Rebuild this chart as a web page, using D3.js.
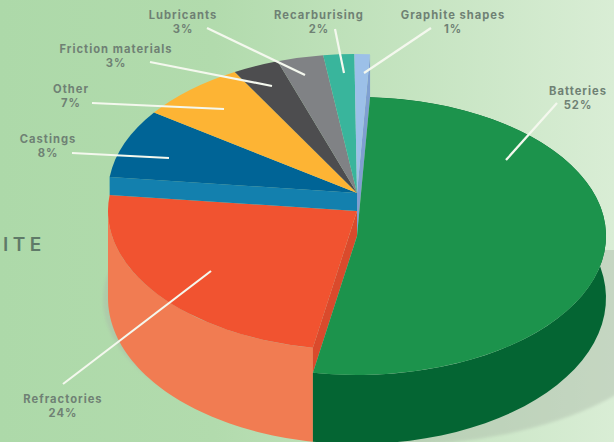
<!DOCTYPE html>
<html>
<head>
<meta charset="utf-8">
<script src="https://cdnjs.cloudflare.com/ajax/libs/d3/7.8.5/d3.min.js"></script>
<style>
html, body { margin: 0; padding: 0; overflow: hidden; background: #c0e1bb; }
text { font-family: Inter, "Open Sans", sans-serif; font-weight: 700; fill: #6f8174; }
</style>
</head>
<body>
<div id="visualization"></div>
<script>
const categories = ["Batteries", "Refractories", "Castings", "Other", "Friction materials", "Lubricants", "Recarburising", "Graphite shapes"];
const shares = [52, 24, 8, 7, 3, 3, 2, 1];

const topColors = ["#1c934c", "#f15330", "#006496", "#fdb434", "#4d4d4f", "#808285", "#39b59c", "#9cc0e8"];

// label centre + leader ends, same order as categories
const labelX = [578, 63, 48, 71, 116, 183, 319, 453];
const labelY = [95, 403, 143, 93, 53, 19, 19, 19];
const leaderFrom = [[557, 103], [63, 384], [72, 153], [92, 103], [150, 62], [207, 28], [335, 29], [431, 28]];
const leaderTo = [[506, 160], [211, 271], [169, 158], [224, 109], [272, 86], [305, 75], [344, 73], [364, 73]];

const width = 614;
const height = 442;
const rx = 249;
const ry = 139;
const cx = 357;
const batteriesY = 236;
const refractoriesY = 211;
const upperY = 193;
const bottomY = 298;
const bottomRy = 146;
const rad = Math.PI / 180;

const svg = d3.select("#visualization")
    .append("svg")
    .attr("width", width)
    .attr("height", height)
    .style("display", "block");

const defs = svg.append("defs");

const bg = defs.append("linearGradient").attr("id", "bg");
bg.append("stop").attr("offset", "0%").attr("stop-color", "#add9a9");
bg.append("stop").attr("offset", "35%").attr("stop-color", "#b2dbad");
bg.append("stop").attr("offset", "100%").attr("stop-color", "#d9edd5");

defs.append("filter").attr("id", "soft")
    .append("feGaussianBlur").attr("stdDeviation", 1.5);

defs.append("clipPath").attr("id", "shadowClip")
    .append("rect")
    .attr("x", 0).attr("y", 250)
    .attr("width", width).attr("height", height);

svg.append("rect")
    .attr("width", width)
    .attr("height", height)
    .attr("fill", "url(#bg)");

svg.append("text")
    .attr("x", 3)
    .attr("y", 251)
    .attr("font-size", 19)
    .attr("letter-spacing", 4.5)
    .style("font-weight", 600)
    .style("fill", "#5f7a68")
    .text("ITE");

// soft shadow under the pie
svg.append("g")
    .attr("clip-path", "url(#shadowClip)")
    .append("ellipse")
    .attr("cx", 395)
    .attr("cy", 300)
    .attr("rx", 292)
    .attr("ry", 145)
    .attr("fill", "#aab8a8")
    .attr("opacity", 0.42)
    .attr("filter", "url(#soft)");

const pie = d3.pie()
    .sort(null)
    .startAngle(3 * rad)
    .endAngle(363 * rad);

const slices = pie(shares);

const arc = d3.arc()
    .innerRadius(0)
    .outerRadius(rx);

const rim = (a, cy, r) => [cx + rx * Math.sin(a), cy - r * Math.cos(a)];

// outer wall between two angles
const wall = (a0, a1, cy) => {
    const steps = d3.range(0, 1.0001, 0.02).map((t) => a0 + (a1 - a0) * t);
    const pts = steps.map((a) => rim(a, cy, ry))
        .concat(steps.slice().reverse().map((a) => rim(a, bottomY, bottomRy)));
    return d3.line()(pts) + "Z";
};

const topFace = (d, cy) => {
    svg.append("path")
        .attr("d", arc(d))
        .attr("transform", `translate(${cx},${cy}) scale(1,${ry / rx})`)
        .attr("fill", topColors[d.index]);
};

// refractories wall + the cut face next to batteries
const refr = slices[1];
svg.append("path")
    .attr("d", wall(refr.startAngle, 270 * rad, refractoriesY))
    .attr("fill", "#f17c52");

svg.append("path")
    .attr("d", d3.line()([[cx, refractoriesY], rim(refr.startAngle, refractoriesY, ry), rim(refr.startAngle, batteriesY, ry), [cx, batteriesY]]) + "Z")
    .attr("fill", "#da4a2c");

topFace(refr, refractoriesY);

// light blue cut face under castings
const cast = slices[2];
svg.append("path")
    .attr("d", d3.line()([[cx, upperY], rim(cast.startAngle, upperY, ry), rim(cast.startAngle, refractoriesY, ry), [cx, refractoriesY]]) + "Z")
    .attr("fill", "#1380ae");

// cut face of graphite shapes, mostly hidden by batteries
const graphite = slices[7];
svg.append("path")
    .attr("d", d3.line()([[cx, upperY], rim(graphite.endAngle, upperY, ry), rim(graphite.endAngle, batteriesY, ry), [cx, batteriesY]]) + "Z")
    .attr("fill", "#7f9fd0");

slices.slice(2).forEach((d) => topFace(d, upperY));

const batt = slices[0];
svg.append("path")
    .attr("d", wall(batt.startAngle, batt.endAngle, batteriesY))
    .attr("fill", "#046533");

topFace(batt, batteriesY);

// leaders
categories.forEach((c, i) => {
    svg.append("line")
        .attr("x1", leaderFrom[i][0])
        .attr("y1", leaderFrom[i][1])
        .attr("x2", leaderTo[i][0])
        .attr("y2", leaderTo[i][1])
        .attr("stroke", "#f4f8ee")
        .attr("stroke-width", 2.2);
});

// labels
categories.forEach((c, i) => {
    const t = svg.append("text")
        .attr("text-anchor", "middle")
        .attr("font-size", 11.2)
        .attr("letter-spacing", 1);
    t.append("tspan")
        .attr("x", labelX[i])
        .attr("y", labelY[i])
        .text(c);
    t.append("tspan")
        .attr("x", labelX[i])
        .attr("y", labelY[i] + 13.7)
        .text(shares[i] + "%");
});
</script>
</body>
</html>
